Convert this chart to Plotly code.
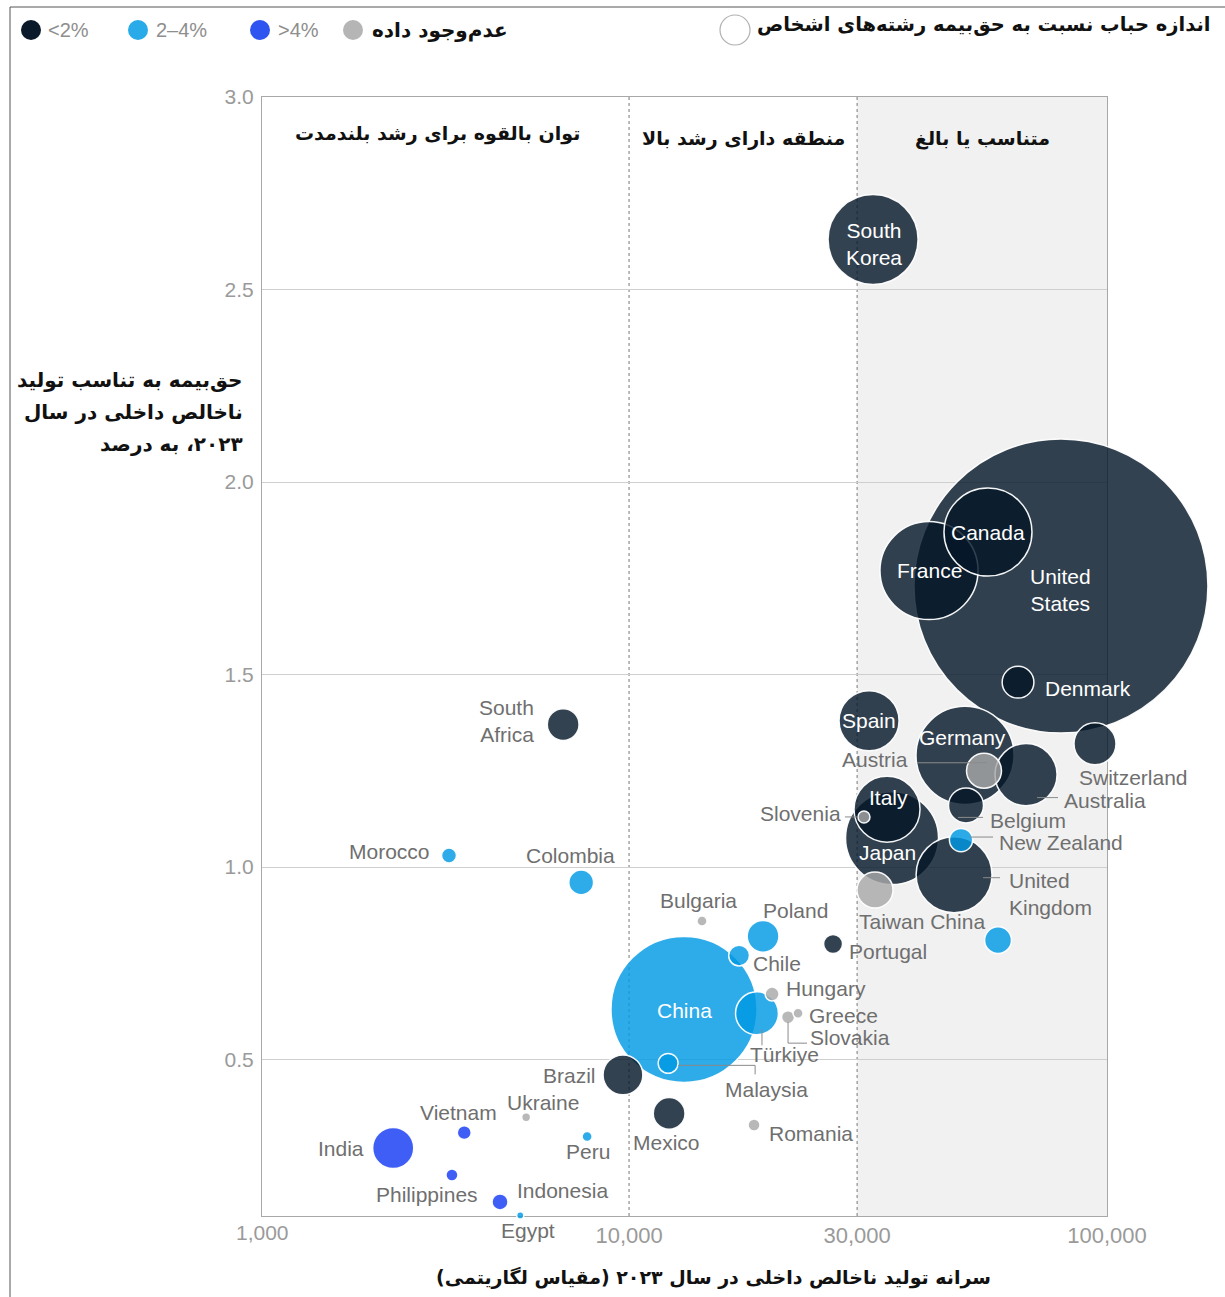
import math
import plotly.graph_objects as go

# ---------------------------------------------------------------------------
# Data: GDP per capita 2023 (USD), premiums as % of GDP 2023,
# personal-lines premiums (USD bn, bubble size) and premium growth band
# ---------------------------------------------------------------------------
countries = [
    "United States", "China", "France", "Germany", "Japan", "South Korea", "Canada",
    "United Kingdom", "Italy", "Australia", "Spain", "Türkiye", "Switzerland", "India",
    "Brazil", "Taiwan China", "Austria", "Belgium", "Denmark", "Poland", "Mexico",
    "South Africa", "", "Colombia", "New Zealand", "Chile", "Malaysia", "Portugal",
    "Indonesia", "Morocco", "Hungary", "Vietnam", "Slovakia", "Slovenia", "Romania",
    "Philippines", "Bulgaria", "Greece", "Peru", "Ukraine", "Egypt",
]
gdp_per_capita = [
    80100, 13030, 42420, 50460, 35500, 32400, 56360,
    47860, 34650, 67700, 31780, 18520, 94380, 3210,
    9710, 32700, 55290, 50700, 65140, 19070, 12130,
    7280, 59160, 7940, 49500, 16990, 12070, 26720,
    5370, 4200, 19920, 4520, 21510, 31010, 18260,
    4260, 14210, 22570, 8170, 6090, 5920,
]
premium_pct_gdp = [
    1.73, 0.63, 1.77, 1.29, 1.075, 2.63, 1.87,
    0.98, 1.15, 1.24, 1.38, 0.62, 1.32, 0.27,
    0.46, 0.94, 1.25, 1.16, 1.48, 0.82, 0.36,
    1.37, 0.81, 0.96, 1.07, 0.77, 0.49, 0.80,
    0.13, 1.03, 0.67, 0.31, 0.61, 1.13, 0.33,
    0.20, 0.86, 0.62, 0.30, 0.35, 0.095,
]
personal_premium_bn = [
    2400, 592, 267, 267, 240, 225, 215,
    160, 121, 107, 100, 51, 49, 47,
    44, 36, 34, 34, 28, 28, 28,
    28, 20, 17, 15, 12, 11, 10,
    7.1, 6.2, 5.4, 5.4, 4.7, 4.0, 4.0,
    4.0, 2.8, 2.8, 2.8, 2.2, 1.4,
]
growth_band = [
    "<2%", "2–4%", "<2%", "<2%", "<2%", "<2%", "<2%",
    "<2%", "<2%", "<2%", "<2%", "2–4%", "<2%", ">4%",
    "<2%", "n/a", "n/a", "<2%", "<2%", "2–4%", "<2%",
    "<2%", "2–4%", "2–4%", "2–4%", "2–4%", "2–4%", "<2%",
    ">4%", "2–4%", "n/a", ">4%", "n/a", "n/a", "n/a",
    ">4%", "n/a", "n/a", "2–4%", "n/a", "2–4%",
]

band_names = ["<2%", "2–4%", ">4%", "n/a"]
band_labels = ["<2%", "2–4%", ">4%", "\u200fعدم‌وجود داده\u200f"]

x_ticks = [10000, 30000, 100000]
x_tick_text = ["10,000", "30,000", "100,000"]
y_ticks = [0.5, 1.0, 1.5, 2.0, 2.5, 3.0]
y_tick_text = ["0.5", "1.0", "1.5", "2.0", "2.5", "3.0"]

region_titles = ["توان بالقوه برای رشد بلندمدت", "منطقه دارای رشد بالا", "متناسب یا بالغ"]
region_bounds = [1706, 10000, 30000, 100000]

y_title_lines = ["حق‌بیمه به تناسب تولید", "ناخالص داخلی در سال", "۲۰۲۳، به درصد"]
x_title = "سرانه تولید ناخالص داخلی در سال ۲۰۲۳ (مقیاس لگاریتمی)"
size_key_title = "اندازه حباب نسبت به حق‌بیمه رشته‌های اشخاص"

# ---------------------------------------------------------------------------
# Styling
# ---------------------------------------------------------------------------
BUBBLE_FILL = {
    "<2%": "rgba(4,22,40,0.81)",
    "2–4%": "rgba(0,152,228,0.82)",
    ">4%": "rgba(20,59,243,0.82)",
    "n/a": "rgba(168,168,168,0.82)",
}
LEGEND_FILL = {"<2%": "#0b1a2a", "2–4%": "#29abe9", ">4%": "#2f55f0", "n/a": "#b5b5b5"}

LATIN = "Liberation Sans, Arial, sans-serif"
PERSIAN = "DejaVu Sans, sans-serif"
LABEL_GRAY = "#6f6f6f"
TICK_GRAY = "#9a9a9a"

W, H = 1225, 1297
M_L, M_R, M_T, M_B = 262, 118, 97, 81
PW, PH = W - M_L - M_R, H - M_T - M_B


def rtl(s):
    return "\u200f" + s + "\u200f"


def px_x(p):
    """horizontal page pixel -> paper fraction"""
    return (p - M_L) / PW


def px_y(p):
    """vertical page pixel -> paper fraction"""
    return (H - M_B - p) / PH


# label text, offset from bubble centre (screen px, down positive), anchor, inside?
labels = {
    "South Korea": ("South<br>Korea", 1, 5, "center", True),
    "United States": ("United<br>States", 0, 4, "center", True),
    "Canada": ("Canada", 0, 0, "center", True),
    "France": ("France", 0, 0, "center", True),
    "Denmark": ("Denmark", 25, 6, "left", True),
    "Spain": ("Spain", 0, 0, "center", True),
    "Germany": ("Germany", -3, -18, "center", True),
    "Italy": ("Italy", 1, -12, "center", True),
    "Japan": ("Japan", -5, 14, "center", True),
    "China": ("China", 0, 1, "center", True),
    "Switzerland": ("Switzerland", 39, 34, "center", False),
    "Austria": ("Austria", -74, -11, "right", False),
    "Australia": ("Australia", 36, 26, "left", False),
    "Belgium": ("Belgium", 22, 15, "left", False),
    "Slovenia": ("Slovenia", -21, -3, "right", False),
    "New Zealand": ("New Zealand", 36, 2, "left", False),
    "United Kingdom": ("United<br>Kingdom", 53, 19, "left", False),
    "Taiwan China": ("Taiwan China", 47, 31, "center", False),
    "Portugal": ("Portugal", 14, 7, "left", False),
    "Türkiye": ("Türkiye", 28, 41, "center", False),
    "Chile": ("Chile", 12, 8, "left", False),
    "Poland": ("Poland", 32, -26, "center", False),
    "Bulgaria": ("Bulgaria", -3, -20, "center", False),
    "Hungary": ("Hungary", 12, -6, "left", False),
    "Greece": ("Greece", 9, 2, "left", False),
    "Slovakia": ("Slovakia", 20, 20, "left", False),
    "Malaysia": ("Malaysia", 98, 26, "center", False),
    "Brazil": ("Brazil", -25, 1, "right", False),
    "Mexico": ("Mexico", -3, 29, "center", False),
    "Romania": ("Romania", 13, 9, "left", False),
    "South Africa": ("South<br>Africa", -27, -4, "right", False),
    "Morocco": ("Morocco", -17, -4, "right", False),
    "Colombia": ("Colombia", -11, -27, "center", False),
    "India": ("India", -27, 0, "right", False),
    "Vietnam": ("Vietnam", -6, -20, "center", False),
    "Ukraine": ("Ukraine", 17, -15, "center", False),
    "Peru": ("Peru", 1, 15, "center", False),
    "Philippines": ("Philippines", -25, 19, "center", False),
    "Indonesia": ("Indonesia", 15, -11, "left", False),
    "Egypt": ("Egypt", 8, 15, "center", False),
}

# leader lines: vertices relative to the bubble centre (screen px, down positive)
leaders = {
    "Austria": [(-67, -8), (3, -8)],
    "Slovenia": [(-19, 0), (-6, 0)],
    "Australia": [(11, 23), (32, 23)],
    "Belgium": [(-8, 12), (17, 12)],
    "New Zealand": [(9, -3), (32, -3)],
    "United Kingdom": [(29, 3), (46, 3)],
    "Slovakia": [(0, 5), (0, 26), (19, 26)],
    "Türkiye": [(5, 16), (5, 32)],
    "Malaysia": [(10, 2), (87, 2), (87, 11)],
}

# ---------------------------------------------------------------------------
# Bubbles (largest drawn first so smaller ones sit on top)
# ---------------------------------------------------------------------------
order = sorted(range(len(countries)), key=lambda i: -personal_premium_bn[i])
max_diameter = 294
sizeref = 2.0 * max(personal_premium_bn) / max_diameter ** 2

fig = go.Figure()
fig.add_trace(go.Scatter(
    x=[gdp_per_capita[i] for i in order],
    y=[premium_pct_gdp[i] for i in order],
    mode="markers",
    text=[countries[i] for i in order],
    marker=dict(
        size=[personal_premium_bn[i] for i in order],
        sizemode="area",
        sizeref=sizeref,
        opacity=1,
        color=[BUBBLE_FILL[growth_band[i]] for i in order],
        line=dict(color="rgba(255,255,255,0.95)", width=1.5),
    ),
    cliponaxis=False,
    hovertemplate="%{text}<br>%{x:,.0f}<br>%{y:.2f}%<extra></extra>",
    showlegend=False,
))

shapes = []
annotations = []

# shaded "mature" region and region dividers
shapes.append(dict(type="rect", xref="x", yref="paper", x0=region_bounds[2], x1=region_bounds[3],
                   y0=0, y1=1, fillcolor="#f1f1f1", line_width=0, layer="below"))
for xv in region_bounds[1:3]:
    shapes.append(dict(type="line", xref="x", yref="paper", x0=xv, x1=xv, y0=0, y1=1,
                       line=dict(color="#777777", width=1, dash="dot"), layer="below"))

# region titles
for k, title in enumerate(region_titles):
    mid = (math.log10(region_bounds[k]) + math.log10(region_bounds[k + 1])) / 2
    annotations.append(dict(
        text="<b>" + rtl(title) + "</b>", xref="x", yref="paper", x=mid,
        y=px_y(133 if k == 0 else 138), xshift=-8 if k == 0 else 0,
        showarrow=False, xanchor="center", yanchor="middle",
        font=dict(family=PERSIAN, size=19, color="#111111"),
    ))

# bubble labels
idx = {c: i for i, c in enumerate(countries)}
for name, (txt, dx, dy, anchor, inside) in labels.items():
    i = idx[name]
    annotations.append(dict(
        text=txt, xref="x", yref="y",
        x=math.log10(gdp_per_capita[i]), y=premium_pct_gdp[i],
        xshift=dx, yshift=-dy, xanchor=anchor, yanchor="middle", align=anchor,
        showarrow=False,
        font=dict(family=LATIN, size=21, color="#ffffff" if inside else LABEL_GRAY),
    ))

# leader lines anchored to the bubbles
for name, pts in leaders.items():
    i = idx[name]
    path = "M " + " L ".join(f"{px},{-py}" for px, py in pts)
    shapes.append(dict(type="path", xref="x", yref="y",
                       xsizemode="pixel", ysizemode="pixel",
                       xanchor=gdp_per_capita[i], yanchor=premium_pct_gdp[i],
                       path=path, line=dict(color="#8a8a8a", width=1), layer="above"))

# axis-start label
annotations.append(dict(text="1,000", xref="paper", yref="paper", x=0, y=0, yshift=-16,
                        showarrow=False, xanchor="center", yanchor="middle",
                        font=dict(family=LATIN, size=21, color=TICK_GRAY)))

# axis titles
for k, line in enumerate(y_title_lines):
    annotations.append(dict(
        text="<b>" + rtl(line) + "</b>",
        xref="paper", yref="paper", x=px_x(245), y=px_y(380 + 32 * k),
        xanchor="right", yanchor="middle", showarrow=False,
        font=dict(family=PERSIAN, size=20, color="#111111"),
    ))
annotations.append(dict(
    text="<b>" + rtl(x_title) + "</b>",
    xref="paper", yref="paper", x=px_x(713), y=px_y(1278), xanchor="center", yanchor="middle",
    showarrow=False, font=dict(family=PERSIAN, size=19, color="#111111"),
))

# colour legend
legend_x = [31, 138, 260, 353]
legend_text_x = [46, 154, 276, 510]
for k, band in enumerate(band_names):
    shapes.append(dict(type="circle", xref="paper", yref="paper",
                       xsizemode="pixel", ysizemode="pixel",
                       xanchor=px_x(legend_x[k]), yanchor=px_y(30),
                       x0=-10, x1=10, y0=-10, y1=10,
                       fillcolor=LEGEND_FILL[band], line_width=0))
    is_fa = band == "n/a"
    annotations.append(dict(
        text=("<b>" + band_labels[k] + "</b>") if is_fa else band_labels[k],
        xref="paper", yref="paper", x=px_x(legend_text_x[k]), y=px_y(30),
        xanchor="right" if is_fa else "left", yanchor="middle", showarrow=False,
        font=dict(family=PERSIAN if is_fa else LATIN, size=20,
                  color="#111111" if is_fa else "#8e8e8e"),
    ))

# bubble-size key
shapes.append(dict(type="circle", xref="paper", yref="paper",
                   xsizemode="pixel", ysizemode="pixel",
                   xanchor=px_x(735), yanchor=px_y(30), x0=-15, x1=15, y0=-15, y1=15,
                   fillcolor="#ffffff", line=dict(color="#b0b0b0", width=1.2)))
annotations.append(dict(
    text="<b>" + rtl(size_key_title) + "</b>",
    xref="paper", yref="paper", x=px_x(1212), y=px_y(25), xanchor="right", yanchor="middle",
    showarrow=False, font=dict(family=PERSIAN, size=19.5, color="#111111"),
))

# outer frame
shapes.append(dict(type="line", xref="paper", yref="paper",
                   x0=px_x(10), x1=px_x(1230), y0=px_y(7), y1=px_y(7),
                   line=dict(color="#555555", width=1)))
shapes.append(dict(type="line", xref="paper", yref="paper",
                   x0=px_x(10), x1=px_x(10), y0=px_y(7), y1=px_y(1300),
                   line=dict(color="#555555", width=1)))

fig.update_layout(
    width=W, height=H,
    margin=dict(l=M_L, r=M_R, t=M_T, b=M_B, pad=0),
    paper_bgcolor="#ffffff", plot_bgcolor="#ffffff",
    font=dict(family=LATIN, color=TICK_GRAY),
    shapes=shapes, annotations=annotations,
    showlegend=False,
    xaxis=dict(
        type="log", range=[math.log10(region_bounds[0]), 5],
        tickvals=x_ticks, ticktext=x_tick_text,
        tickfont=dict(family=LATIN, size=22, color=TICK_GRAY),
        showgrid=False, zeroline=False,
        showline=True, linecolor="#a8a8a8", linewidth=1, mirror=True,
        ticks="", layer="below traces",
    ),
    yaxis=dict(
        range=[0.0935, 3.0],
        tickvals=y_ticks, ticktext=y_tick_text,
        tickfont=dict(family=LATIN, size=21, color=TICK_GRAY),
        showgrid=True, gridcolor="#cfcfcf", gridwidth=1, zeroline=False,
        showline=True, linecolor="#a8a8a8", linewidth=1, mirror=True,
        ticks="", ticklabelstandoff=3, layer="below traces",
    ),
)

fig.write_html("out.html")
